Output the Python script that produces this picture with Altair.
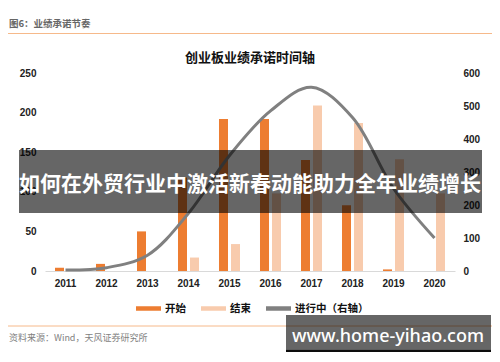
import altair as alt
import pandas as pd

years = ["2011", "2012", "2013", "2014", "2015", "2016", "2017", "2018", "2019", "2020"]
start_vals = [4, 9, 50, 118, 192, 192, 140, 83, 2, 0]
end_vals = [0, 0, 0, 17, 34, 98, 209, 187, 141, 98]
ongoing_vals = [3, 10, 48, 175, 350, 485, 557, 465, 250, 100]

series_names = ["开始", "结束", "进行中（右轴）"]
series_colors = ["#ED7D31", "#F8CBAD", "#808080"]
left_ticks = [0, 50, 100, 150, 200, 250]
right_ticks = [0, 100, 200, 300, 400, 500, 600]

header_text = "图6：业绩承诺节奏"
title_text = "创业板业绩承诺时间轴"
banner_text = "如何在外贸行业中激活新春动能助力全年业绩增长"
footer_text = "资料来源：Wind，天风证券研究所"
watermark_text = "www.home-yihao.com"

bars_df = pd.DataFrame({
    "year": years * 2,
    "series": [series_names[0]] * len(years) + [series_names[1]] * len(years),
    "value": start_vals + end_vals,
})
line_df = pd.DataFrame({"year": years, "value": ongoing_vals})
one = pd.DataFrame({"k": [0]})

CJK = "Noto Sans CJK SC"
NUM = "Liberation Sans"

x_enc = alt.X(
    "year:N", sort=years,
    scale=alt.Scale(paddingInner=0, paddingOuter=0),
    axis=alt.Axis(title=None, labelAngle=0, ticks=False, domainColor="#D9D9D9",
                  labelFont=NUM, labelFontWeight="bold", labelFontSize=10,
                  labelColor="#222222", labelPadding=7),
)

bars = alt.Chart(bars_df).mark_bar().encode(
    x=x_enc,
    xOffset=alt.XOffset("series:N", sort=series_names[:2],
                        scale=alt.Scale(paddingInner=0.25, paddingOuter=0.833)),
    y=alt.Y("value:Q", scale=alt.Scale(domain=[0, 250], nice=False),
            axis=alt.Axis(title=None, values=left_ticks, grid=False, domain=False,
                          ticks=False, labelPadding=9, labelFont=NUM,
                          labelFontWeight="bold", labelFontSize=10,
                          labelColor="#222222")),
    color=alt.Color(
        "series:N",
        scale=alt.Scale(domain=series_names, range=series_colors),
        legend=alt.Legend(
            title=None, orient="none", legendX=91, legendY=223,
            direction="horizontal", symbolType="M-1,-0.18H1V0.18H-1Z",
            symbolSize=625, symbolStrokeWidth=0, labelFont=CJK,
            labelFontWeight="bold", labelFontSize=10.5, labelColor="#111111",
            labelOffset=4, columnPadding=15, padding=0,
        ),
    ),
)

line = alt.Chart(line_df).mark_line(
    interpolate="catmull-rom", strokeWidth=3, color="#808080"
).encode(
    x=alt.X("year:N", sort=years, bandPosition=0.5),
    y=alt.Y("value:Q", scale=alt.Scale(domain=[0, 600], nice=False),
            axis=alt.Axis(title=None, orient="right", values=right_ticks, grid=False,
                          domain=False, ticks=False, labelPadding=8, labelFont=NUM,
                          labelFontWeight="bold", labelFontSize=10,
                          labelColor="#222222")),
)


def txt(s, x, y, **kw):
    return alt.Chart(one).mark_text(**kw).encode(
        x=alt.value(x), y=alt.value(y), text=alt.value(s))


def rect(x, x2, y, y2, **kw):
    return alt.Chart(one).mark_rect(**kw).encode(
        x=alt.value(x), x2=alt.value(x2), y=alt.value(y), y2=alt.value(y2))


def hrule(x, x2, y, **kw):
    return alt.Chart(one).mark_rule(**kw).encode(
        x=alt.value(x), x2=alt.value(x2), y=alt.value(y))


header = txt(header_text, -36, -49.5, font=CJK, fontSize=9.5, fontWeight="bold",
             color="#666666", align="left", baseline="middle")
header_rule = hrule(-37, 453, -39.5, color="#F6B98A", strokeWidth=1)
title = txt(title_text, 205, -15, font=CJK, fontSize=13, fontWeight="bold",
            color="#111111", align="center", baseline="middle")
banner_rect = rect(-26, 437, 77, 140, color="#000000", opacity=0.6)
banner = txt(banner_text, 205, 112, font=CJK, fontSize=21, fontWeight="bold",
             color="#FFFFFF", align="center", baseline="middle")
bottom_rule = hrule(-37, 453, 253, color="#F6B98A", strokeWidth=1)
footer = txt(footer_text, -36, 265, font=CJK, fontSize=9, color="#7F7F7F",
             align="left", baseline="middle")
wm_rect = rect(241, 446, 242, 276.5, color="#000000", opacity=0.6)
wm_strip = rect(241, 446, 276.5, 280, color="#000000", opacity=0.95)
wm_text = txt(watermark_text, 343, 264, font="Noto Sans", fontSize=18,
              fontWeight=500, color="#FFFFFF", align="center", baseline="middle")

chart = alt.layer(
    bars, line, header, header_rule, title, banner_rect, banner,
    bottom_rule, footer, wm_rect, wm_strip, wm_text
).resolve_scale(y="independent").properties(
    width=410, height=198,
    autosize=alt.AutoSizeParams(type="none"),
    padding={"left": 37, "top": 65, "right": 37, "bottom": 81},
    background="#FFFFFF",
).configure_view(stroke=None)

chart.save("out.html", embed_options={"renderer": "svg", "actions": False})
